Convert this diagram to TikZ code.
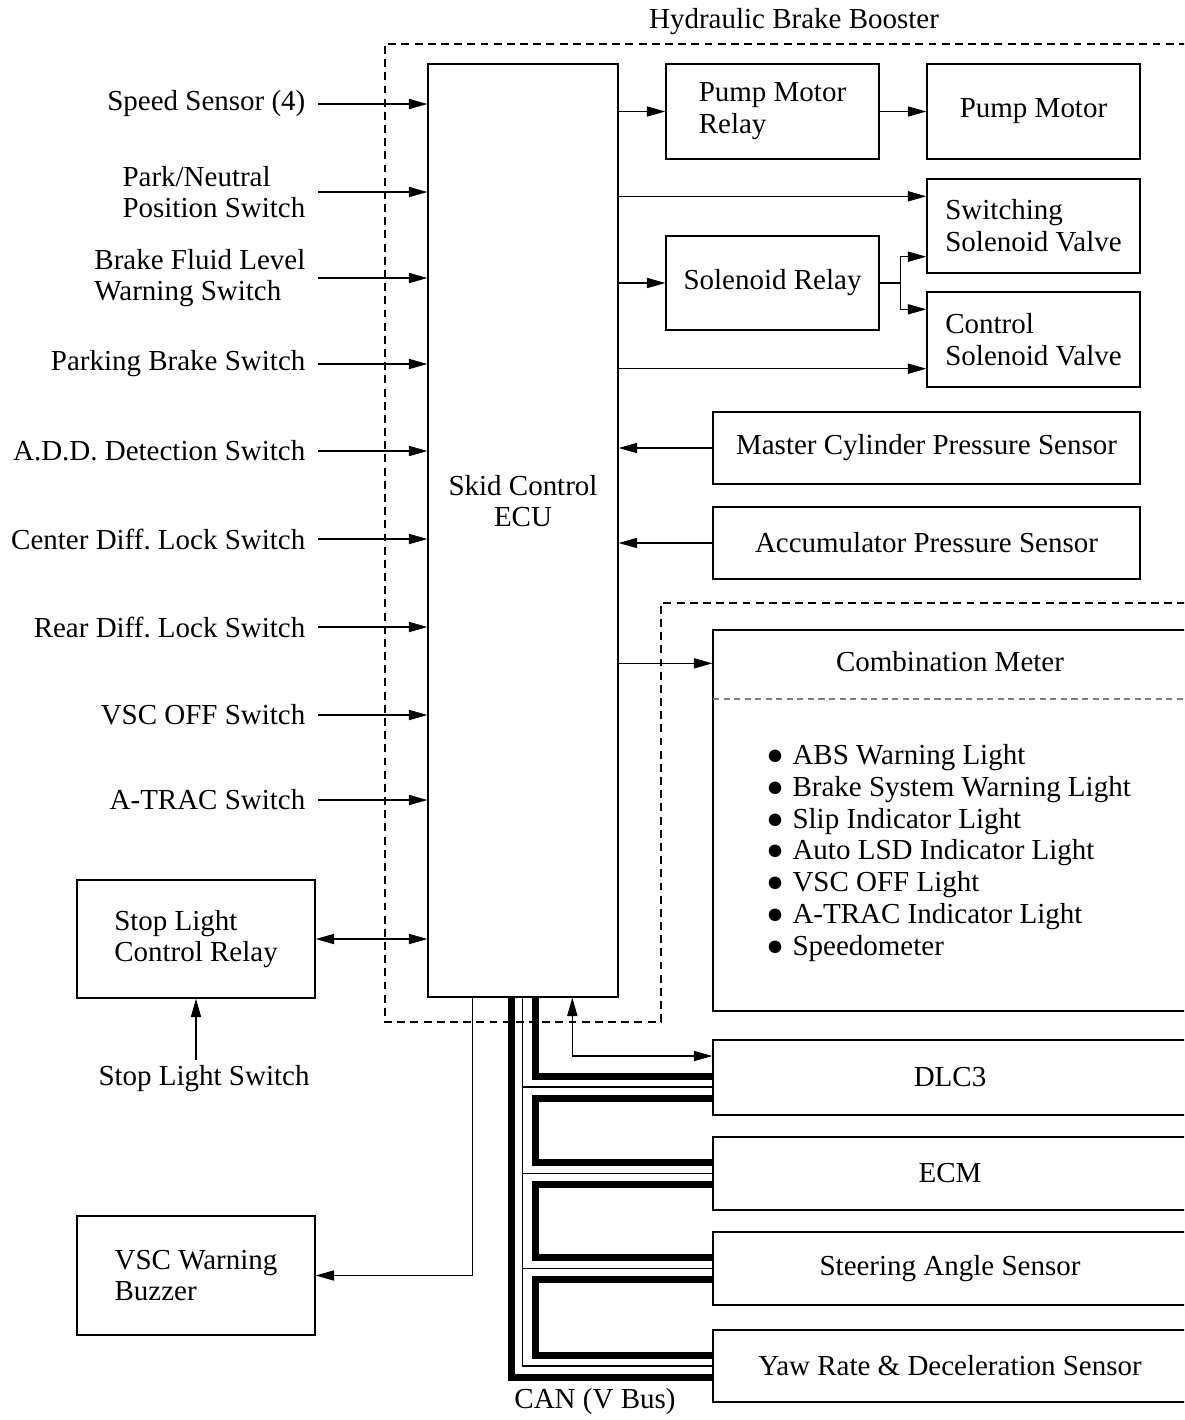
\documentclass[tikz,border=0pt]{standalone}
\usepackage{fontspec}
\setmainfont{Liberation Serif}
\usetikzlibrary{arrows.meta}
\frenchspacing

\tikzset{
  blk/.style={draw, line width=.8pt, inner sep=0pt, align=left},
  sig/.style={line width=.6pt},
  lbl/.style={anchor=east, inner xsep=7pt, align=left},
  canh/.style={line width=4pt},
  canl/.style={line width=.6pt},
  bound/.style={line width=.8pt, dash pattern=on 4.5pt off 3pt},
}

\begin{document}
\begin{tikzpicture}[x=.02cm, y=-.02cm, >={Triangle[length=10.5pt,width=5.8pt]},
  every node/.style={font=\fontsize{16.5}{18.1}\selectfont}]
  \clip (0,0) rectangle (1184,1420);

  % hydraulic brake booster outline
  \draw[bound] (1200,44) -- (385,44) -- (385,1022) -- (661,1022)
    -- (661,603) -- (1200,603);
  \node (hbb) at (794,22) {Hydraulic Brake Booster};

  % skid control ECU
  \node[blk, minimum width=3.8cm, minimum height=18.66cm] (ecu) at (523,530.5) {};
  \node[align=center] (ecut) at (523,501) {Skid Control\\ECU};

  % inputs, left
  \node[lbl] (spd) at (318,104) {Speed Sensor (4)};
  \node[lbl] (pns) at (318,192) {Park/Neutral\\Position Switch};
  \node[lbl] (bfl) at (318,278) {Brake Fluid Level\\Warning Switch};
  \node[lbl] (pbs) at (318,364) {Parking Brake Switch};
  \node[lbl] (add) at (318,451) {A.D.D. Detection Switch};
  \node[lbl] (cdl) at (318,539) {Center Diff. Lock Switch};
  \node[lbl] (rdl) at (318,627) {Rear Diff. Lock Switch};
  \node[lbl] (vso) at (318,715) {VSC OFF Switch};
  \node[lbl] (atr) at (318,800) {A-TRAC Switch};
  \node[blk, minimum width=4.76cm, minimum height=2.36cm] (slcr) at (196,939) {Stop Light\\Control Relay};
  \node (sls) at (204,1079) {Stop Light Switch};
  \node[blk, minimum width=4.76cm, minimum height=2.38cm] (vwb) at (196,1275.5) {VSC Warning\\Buzzer};

  % actuators and sensors, right
  \node[blk, minimum width=4.26cm, minimum height=1.9cm] (pmr) at (772.5,111.5) {Pump Motor\\Relay};
  \node[blk, minimum width=4.26cm, minimum height=1.9cm] (pm) at (1033.5,111.5) {Pump Motor};
  \node[blk, minimum width=4.26cm, minimum height=1.88cm] (ssv) at (1033.5,226) {Switching\\Solenoid Valve};
  \node[blk, minimum width=4.26cm, minimum height=1.88cm] (sr) at (772.5,283) {Solenoid Relay};
  \node[blk, minimum width=4.26cm, minimum height=1.9cm] (csv) at (1033.5,339.5) {Control\\Solenoid Valve};
  \node[blk, minimum width=8.54cm, minimum height=1.44cm] (mcp) at (926.5,448) {Master Cylinder Pressure Sensor};
  \node[blk, minimum width=8.54cm, minimum height=1.44cm] (aps) at (926.5,543) {Accumulator Pressure Sensor};

  % combination meter
  \node[blk, minimum width=9.48cm, minimum height=7.62cm] (cmb) at (950,820.5) {};
  \node (cmbt) at (950,662) {Combination Meter};
  \draw[gray, line width=.6pt, dash pattern=on 3.5pt off 2.5pt] (713,699) -- (1200,699);
  \node[anchor=west, inner sep=0pt, align=left] (cmbl) at (766,853)
    {●\hspace{.3em}ABS Warning Light\\
     ●\hspace{.3em}Brake System Warning Light\\
     ●\hspace{.3em}Slip Indicator Light\\
     ●\hspace{.3em}Auto LSD Indicator Light\\
     ●\hspace{.3em}VSC OFF Light\\
     ●\hspace{.3em}A-TRAC Indicator Light\\
     ●\hspace{.3em}Speedometer};

  % CAN nodes
  \node[blk, minimum width=9.48cm, minimum height=1.5cm] (dlc) at (950,1077.5) {DLC3};
  \node[blk, minimum width=9.48cm, minimum height=1.46cm] (ecm) at (950,1173.5) {ECM};
  \node[blk, minimum width=9.48cm, minimum height=1.46cm] (sas) at (950,1268.5) {Steering Angle Sensor};
  \node[blk, minimum width=9.48cm, minimum height=1.44cm] (yaw) at (950,1366) {Yaw Rate \& Deceleration Sensor};
  \node (can) at (595,1402) {CAN (V Bus)};

  % left connectors
  \draw[sig,->] (spd.east) -- (spd.east -| ecu.west);
  \draw[sig,->] (pns.east) -- (pns.east -| ecu.west);
  \draw[sig,->] (bfl.east) -- (bfl.east -| ecu.west);
  \draw[sig,->] (pbs.east) -- (pbs.east -| ecu.west);
  \draw[sig,->] (add.east) -- (add.east -| ecu.west);
  \draw[sig,->] (cdl.east) -- (cdl.east -| ecu.west);
  \draw[sig,->] (rdl.east) -- (rdl.east -| ecu.west);
  \draw[sig,->] (vso.east) -- (vso.east -| ecu.west);
  \draw[sig,->] (atr.east) -- (atr.east -| ecu.west);
  \draw[sig,<->] (slcr.east) -- (slcr.east -| ecu.west);
  \draw[sig,->] (sls.north -| slcr.south) -- (slcr.south);
  \path (ecu.south west) +(45,0) coordinate (ecubz);
  \draw[sig,->] (ecubz) |- (vwb.east);

  % right connectors
  \draw[sig,->] (ecu.east |- pmr.west) -- (pmr.west);
  \draw[sig,->] (pmr.east) -- (pm.west);
  \path (ssv.north west) +(0,18) coordinate (ssvi);
  \draw[sig,->] (ecu.east |- ssvi) -- (ssvi);
  \draw[sig,->] (ecu.east |- sr.west) -- (sr.west);
  \path (sr.east) +(21,0) coordinate (srj);
  \path (ssv.south west) +(0,-17) coordinate (ssvr);
  \path (csv.north west) +(0,18) coordinate (csvr);
  \draw[sig] (sr.east) -- (srj);
  \draw[sig,->] (srj) |- (ssvr);
  \draw[sig,->] (srj) |- (csvr);
  \path (csv.south west) +(0,-19) coordinate (csvi);
  \draw[sig,->] (ecu.east |- csvi) -- (csvi);
  \draw[sig,->] (mcp.west) -- (mcp.west -| ecu.east);
  \draw[sig,->] (aps.west) -- (aps.west -| ecu.east);
  \path (cmb.north west) +(0,34) coordinate (cmbi);
  \draw[sig,->] (ecu.east |- cmbi) -- (cmbi);

  % CAN bus
  \path (ecu.south west) +(84,0) coordinate (canho) +(95,0) coordinate (canlo)
    +(108,0) coordinate (canhi) +(145,0) coordinate (diag);
  \path (dlc.west) +(0,-21.5) coordinate (dlcd) +(0,-1.5) coordinate (dlchi)
    +(0,9.5) coordinate (dlclo) +(0,20.5) coordinate (dlcho);
  \path (ecm.west) +(0,-11) coordinate (ecmhi) +(0,0) coordinate (ecmlo) +(0,11) coordinate (ecmho);
  \path (sas.west) +(0,-11) coordinate (sashi) +(0,0) coordinate (saslo) +(0,11) coordinate (sasho);
  \path (yaw.west) +(0,-11) coordinate (yawhi) +(0,0) coordinate (yawlo) +(0,11) coordinate (yawho);
  \draw[sig,<->] (diag) |- (dlcd);
  \draw[canh] (canhi) |- (dlchi);
  \draw[canh] (dlcho) -| (canhi |- ecmhi) -- (ecmhi);
  \draw[canh] (ecmho) -| (canhi |- sashi) -- (sashi);
  \draw[canh] (sasho) -| (canhi |- yawhi) -- (yawhi);
  \draw[canh] (canho) |- (yawho);
  \draw[canl] (canlo) |- (yawlo);
  \draw[canl] (canlo |- dlclo) -- (dlclo);
  \draw[canl] (canlo |- ecmlo) -- (ecmlo);
  \draw[canl] (canlo |- saslo) -- (saslo);
\end{tikzpicture}
\end{document}
